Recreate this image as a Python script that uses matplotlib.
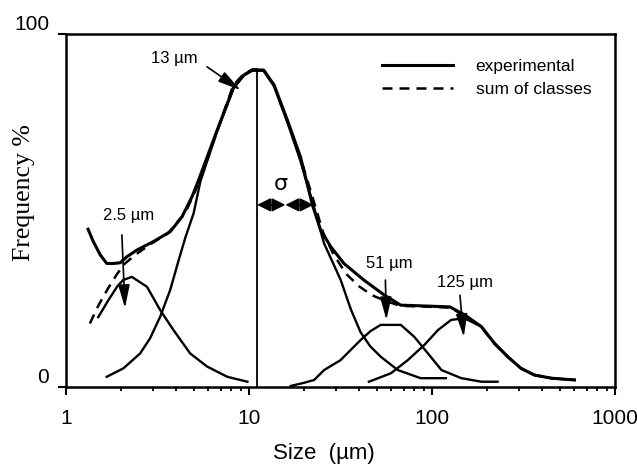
import matplotlib
matplotlib.use("Agg")
import matplotlib.pyplot as plt

# experimental curve
exp_x = [1.32, 1.41, 1.54, 1.67, 1.83, 1.98, 2.15, 2.44, 3.0, 3.71, 4.3, 4.88, 5.3,
         6.7, 8.24, 9.36, 10.4, 12.0, 13.7, 16.2, 19.1, 22.2, 24.6, 28, 33, 42.4,
         54.7, 67.3, 125, 150, 186, 219, 259, 306, 362, 448, 600]
exp_y = [44.7, 41.2, 37.4, 35.0, 35.0, 35.2, 36.9, 38.8, 41.2, 44.0, 48.2, 53.9, 58.6,
         72.8, 85.0, 88.4, 89.8, 89.8, 85.6, 75.6, 65.2, 51.6, 44.5, 39.7, 35.0, 30.3,
         26.1, 23.2, 22.7, 20.5, 17.1, 12.4, 8.6, 5.3, 3.4, 2.5, 2.0]

# sum of the four classes
sum_x = [1.35, 1.5, 1.7, 1.9, 2.1, 2.4, 2.9, 3.6, 4.5, 5.4, 6.7, 8.2, 9.4, 10.5, 12,
         13.7, 16.2, 19.1, 22.6, 25.5, 29, 34, 40, 47, 55, 67, 90, 125, 150, 186,
         219, 259, 306, 362, 448, 600]
sum_y = [18, 23, 28, 32, 35, 37.5, 40.5, 43.5, 49.5, 58.5, 72.5, 85.5, 88.8, 90, 90,
         85.3, 75.3, 65, 52.5, 43.5, 37.5, 32, 28.5, 26, 24.5, 23, 22.8, 22.5, 20.3,
         17.0, 12.3, 8.5, 5.3, 3.4, 2.5, 2.0]

# classes
c1_x = [1.5, 1.7, 1.9, 2.05, 2.29, 2.77, 3.27, 3.87, 4.77, 5.9, 7.6, 9.8]
c1_y = [19.8, 24.5, 28.4, 30.3, 31.2, 28.4, 21.8, 16.1, 9.5, 5.8, 2.9, 1.5]

c2_x = [1.67, 2.06, 2.54, 2.88, 3.27, 3.71, 4.13, 4.5, 4.98, 5.42, 6.7, 8.24, 9.36,
        10.4, 12.0, 13.7, 16.2, 19.1, 22.6, 25.7, 31.7, 36, 40.7, 46, 52.4, 65, 86.6,
        119]
c2_y = [2.9, 5.3, 9.5, 13.8, 19.9, 27.5, 36.0, 42.5, 49.2, 58.2, 72.5, 84.6, 88.2,
        89.6, 89.6, 85.2, 75.0, 64.0, 51.0, 40.7, 30.3, 22.0, 15.5, 11.5, 8.6, 4.8,
        2.5, 2.5]

c3_x = [16.9, 20, 22.7, 25.7, 31.6, 40.7, 46, 52.4, 67.5, 80, 95, 112.6, 144.5, 186,
        228]
c3_y = [0.3, 1.2, 2.0, 4.8, 7.6, 13.3, 15.8, 17.6, 17.6, 14.2, 9.5, 4.8, 2.5, 1.5,
        1.5]

c4_x = [45.2, 59.6, 73.6, 90.7, 107.6, 127, 150, 186, 219, 259, 306, 362, 448, 600]
c4_y = [1.5, 3.9, 7.6, 11.9, 16.1, 19.0, 19.5, 17.1, 12.4, 8.6, 5.3, 3.4, 2.5, 2.0]

mode_x = 11.07
mode_y = 90
sigma_y = 51.6
sigma_mid = 15.8
sigma_end = 22.5

# label, text position, arrow start, arrow tip
peaks = [
    ("13 µm", (3.9, 93.2), (5.9, 90.7), (9.0, 84.1)),
    ("2.5 µm", (2.19, 48.7), (2.02, 43.1), (2.1, 22.4)),
    ("51 µm", (58.3, 35.1), (55.6, 30.3), (56.3, 19.0)),
    ("125 µm", (151, 29.7), (142, 26.0), (149, 14.2)),
]

sans = "Liberation Sans"

fig = plt.figure(figsize=(6.37, 4.66), dpi=100)
ax = fig.add_axes([0.1036, 0.1695, 0.862, 0.7575])

for cx, cy in [(c1_x, c1_y), (c2_x, c2_y), (c3_x, c3_y), (c4_x, c4_y)]:
    ax.plot(cx, cy, color="black", lw=1.7, solid_joinstyle="round")

ax.plot(exp_x, exp_y, color="black", lw=2.2, label="experimental",
        solid_joinstyle="round")
ax.plot(sum_x, sum_y, color="black", lw=1.8, ls=(0, (4, 2.8)), label="sum of classes")

ax.plot([mode_x, mode_x], [0, mode_y], color="black", lw=1.3)

# sigma arrows
arr = dict(arrowstyle="<|-|>,head_length=0.8,head_width=0.4", color="black", lw=1.3,
           shrinkA=0, shrinkB=0)
ax.annotate("", xy=(mode_x, sigma_y), xytext=(sigma_mid, sigma_y), arrowprops=arr)
ax.annotate("", xy=(sigma_mid, sigma_y), xytext=(sigma_end, sigma_y), arrowprops=arr)
ax.text(15.0, 57.5, "σ", fontsize=16, family="DejaVu Sans", ha="center", va="center")

for label, tpos, start, tip in peaks:
    ax.text(tpos[0], tpos[1], label, fontsize=12, family=sans, ha="center", va="center")
    ax.annotate("", xy=tip, xytext=start,
                arrowprops=dict(arrowstyle="-|>,head_length=1.4,head_width=0.35",
                                color="black", lw=1.2, shrinkA=0, shrinkB=0))

ax.set_xscale("log")
ax.set_xlim(1, 1000)
ax.set_ylim(0, 100)
ax.set_xticks([1, 10, 100, 1000])
ax.set_xticklabels(["1", "10", "100", "1000"], fontsize=15, family=sans)
ax.set_yticks([0, 100])
ax.set_yticklabels(["0", "100"], fontsize=15, family=sans)
for t in ax.get_yticklabels():
    t.set_va("bottom")
ax.tick_params(axis="x", which="major", length=6, width=1.5, pad=10)
ax.tick_params(axis="x", which="minor", length=3, width=1.3)
ax.tick_params(axis="y", length=6, width=1.5, pad=6)

for s in ax.spines.values():
    s.set_linewidth(1.8)

ax.set_xlabel("Size  (µm)", fontsize=16, family=sans)
ax.xaxis.set_label_coords(0.47, -0.159)
ax.set_ylabel("Frequency %", fontsize=18.5, family="Liberation Serif")
ax.yaxis.set_label_coords(-0.0565, 0.55)

leg = ax.legend(loc="upper right", bbox_to_anchor=(0.985, 0.975), frameon=False,
                prop={"family": sans, "size": 12.5}, handlelength=4.1,
                handletextpad=1.3, labelspacing=0.45)

fig.savefig("out.png", dpi=100)
